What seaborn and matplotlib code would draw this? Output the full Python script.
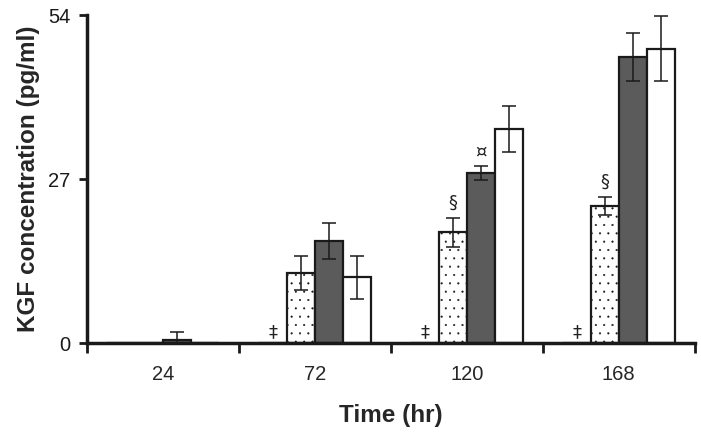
import pandas as pd
import matplotlib.pyplot as plt
import seaborn as sns

# Values (pg/ml)
times = ['24', '72', '120', '168']
groups = ['A', 'B', 'C', 'D']
group_a = [0, 0, 0, 0]
group_b = [0, 11.5, 18.2, 22.6]
group_c = [0.5, 16.8, 28.0, 47.1]
group_d = [0, 10.8, 35.3, 48.5]
err_a = [0, 0, 0, 0]
err_b = [0, 2.8, 2.4, 1.5]
err_c = [1.3, 2.9, 1.1, 3.9]
err_d = [0, 3.5, 3.8, 5.3]

# Significance marks: (time index, group index, symbol)
marks = [(1, 0, '‡'), (2, 0, '‡'), (3, 0, '‡'),
         (2, 1, '§'), (3, 1, '§'), (2, 2, '¤')]

means = [group_a, group_b, group_c, group_d]
errs = [err_a, err_b, err_c, err_d]
rows = []
for g, vals, es in zip(groups, means, errs):
    for t, v, e in zip(times, vals, es):
        rows.append({'Time': t, 'Group': g, 'KGF': v, 'SD': e})
df = pd.DataFrame(rows)

sns.set_style('white')
plt.rcParams['font.family'] = ['Liberation Sans', 'DejaVu Sans']
plt.rcParams['hatch.linewidth'] = 0.3

fig = plt.figure(figsize=(7.01, 4.32), dpi=100)
ax = fig.add_axes([0.124, 0.206, 0.867, 0.759])

palette = {'A': 'white', 'B': 'white', 'C': '#5b5b5b', 'D': 'white'}
sns.barplot(data=df, x='Time', y='KGF', hue='Group', order=times, hue_order=groups,
            palette=palette, errorbar=None, width=0.74, edgecolor='#1a1a1a',
            linewidth=1.6, legend=False, ax=ax)

bar_containers = list(ax.containers)

# dotted fill for group B
for bar in bar_containers[1]:
    bar.set_hatch('..')

# error bars and marks
centers = {}
for gi, cont in enumerate(bar_containers):
    for ti, bar in enumerate(cont):
        xc = bar.get_x() + bar.get_width() / 2
        centers[(ti, gi)] = xc
        e = errs[gi][ti]
        if e > 0:
            ax.errorbar(xc, means[gi][ti], yerr=e, color='#1a1a1a', capsize=5,
                        elinewidth=1.1, capthick=1.1)

for ti, gi, sym in marks:
    xc = centers[(ti, gi)]
    if sym == '‡':
        y = 0.3
    else:
        y = means[gi][ti] + errs[gi][ti] + 1.0
    ax.text(xc, y, sym, ha='center', va='bottom', fontsize=13, color='#222222',
            family=['DejaVu Sans'])

ax.set_ylim(0, 54)
ax.set_xlim(-0.5, 3.5)
ax.set_yticks([0, 27, 54])
ax.tick_params(axis='y', labelsize=14.5, length=6, width=2, direction='out',
               left=True, colors='#1a1a1a', pad=6)
ax.tick_params(axis='x', which='major', labelsize=14.5, length=0, pad=16)
ax.set_xticks([-0.5, 0.5, 1.5, 2.5, 3.5], minor=True)
ax.tick_params(axis='x', which='minor', length=7, width=2, direction='out',
               bottom=True, color='#1a1a1a')

for side in ['top', 'right']:
    ax.spines[side].set_visible(False)
for side in ['left', 'bottom']:
    ax.spines[side].set_linewidth(2.5)
    ax.spines[side].set_color('#1a1a1a')

ax.set_xlabel('Time (hr)', fontsize=17.5, fontweight='bold', labelpad=14)
ax.set_ylabel('KGF concentration (pg/ml)', fontsize=17.5, fontweight='bold', labelpad=6)

fig.savefig('out.png', dpi=100)
